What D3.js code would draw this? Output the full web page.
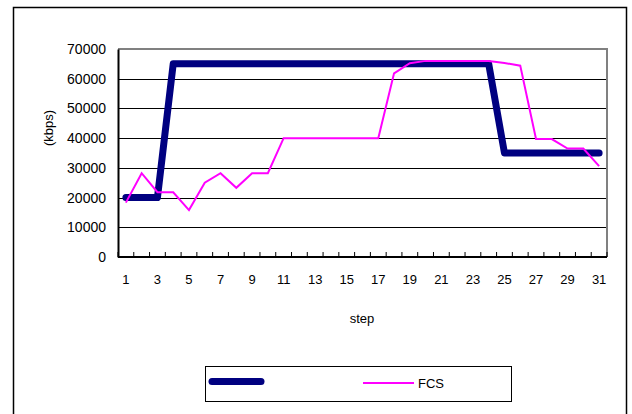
<!DOCTYPE html>
<html>
<head>
<meta charset="utf-8">
<script src="https://cdn.jsdelivr.net/npm/d3@7"></script>
<style>
  html, body { margin: 0; padding: 0; background: #fff; }
  svg { display: block; font-family: "Liberation Sans", Arial, sans-serif; }
</style>
</head>
<body>
<svg id="chart" width="632" height="414"></svg>
<script>
const steps = d3.range(1, 32);
const seriesBlue = [20000,20000,20000,
  65000,65000,65000,65000,65000,65000,65000,65000,65000,65000,65000,65000,65000,65000,65000,65000,65000,65000,65000,65000,65000,
  35000,35000,35000,35000,35000,35000,35000];
const seriesFCS = [18300,28200,21800,21800,15800,25000,28200,23300,28200,28200,
  40000,40000,40000,40000,40000,40000,40000,
  61800,65200,66000,66000,66000,66000,66000,65300,64400,39700,39700,36500,36500,30600];
const yTicks = [0,10000,20000,30000,40000,50000,60000,70000];
const xTickLabels = steps.filter(d => d % 2 === 1);
const legendLabels = ["", "FCS"];

const svg = d3.select("#chart");

// outer chart border
svg.append("rect").attr("x", 13.5).attr("y", 7.5).attr("width", 613).attr("height", 420)
  .attr("fill", "none").attr("stroke", "#000").attr("stroke-width", 1.5);

const plot = {left: 118, right: 607, top: 49, bottom: 257};

const x = d3.scaleBand().domain(steps).range([plot.left, plot.right]);
const xc = d => x(d) + x.bandwidth() / 2;
const y = d3.scaleLinear().domain([0, 70000]).range([plot.bottom, plot.top]);

// gridlines
svg.append("g").selectAll("line").data(yTicks.filter(d => d > 0)).join("line")
  .attr("x1", plot.left).attr("x2", plot.right)
  .attr("y1", d => Math.round(y(d)) + 0.5).attr("y2", d => Math.round(y(d)) + 0.5)
  .attr("stroke", "#000").attr("stroke-width", 1);

// plot border top/right gray
svg.append("path")
  .attr("d", `M${plot.left},${plot.top}H${plot.right}V${plot.bottom}`)
  .attr("fill", "none").attr("stroke", "#808080").attr("stroke-width", 2);

// y axis
const yAxis = d3.axisLeft(y).tickValues(yTicks).tickSize(0).tickPadding(12).tickFormat(d3.format("d"));
const gy = svg.append("g").attr("transform", `translate(${plot.left},0)`).call(yAxis);
gy.select(".domain").attr("stroke", "#000").attr("stroke-width", 2);
gy.selectAll("text").attr("font-size", 14).attr("fill", "#000").attr("font-family", "Liberation Sans, Arial, sans-serif");

// x axis: ticks at band boundaries pointing inward
const boundaries = steps.map(d => x(d)).concat([plot.right]);
svg.append("g").selectAll("line").data(boundaries).join("line")
  .attr("x1", d => d).attr("x2", d => d)
  .attr("y1", plot.bottom).attr("y2", plot.bottom - 5)
  .attr("stroke", "#000").attr("stroke-width", 1);
const xAxis = d3.axisBottom(x).tickValues(xTickLabels).tickSize(0).tickPadding(18);
const gx = svg.append("g").attr("transform", `translate(0,${plot.bottom})`).call(xAxis);
gx.select(".domain").attr("d", `M${plot.left},0H${plot.right}`).attr("stroke", "#000").attr("stroke-width", 2);
gx.selectAll("text").attr("font-size", 13).attr("fill", "#000").attr("font-family", "Liberation Sans, Arial, sans-serif");

// axis titles
svg.append("text").attr("x", 362).attr("y", 323).attr("text-anchor", "middle")
  .attr("font-size", 13).text("step");
svg.append("text").attr("transform", "translate(53,128) rotate(-90)").attr("text-anchor", "middle")
  .attr("font-size", 13).text("(kbps)");

// lines
const lineBlue = d3.line().x((d, i) => xc(steps[i])).y(d => y(d));
svg.append("path").datum(seriesBlue).attr("d", lineBlue)
  .attr("fill", "none").attr("stroke", "#000080").attr("stroke-width", 7)
  .attr("stroke-linejoin", "round").attr("stroke-linecap", "round");
svg.append("path").datum(seriesFCS).attr("d", lineBlue)
  .attr("fill", "none").attr("stroke", "#FF00FF").attr("stroke-width", 2)
  .attr("stroke-linejoin", "miter");

// legend
svg.append("rect").attr("x", 205.5).attr("y", 366.5).attr("width", 306).attr("height", 35)
  .attr("fill", "#fff").attr("stroke", "#000").attr("stroke-width", 1);
svg.append("line").attr("x1", 212).attr("x2", 261).attr("y1", 381.5).attr("y2", 381.5)
  .attr("stroke", "#000080").attr("stroke-width", 7).attr("stroke-linecap", "round");
svg.append("text").attr("x", 266).attr("y", 388).attr("font-size", 13).text(legendLabels[0]);
svg.append("line").attr("x1", 363).attr("x2", 414).attr("y1", 383).attr("y2", 383)
  .attr("stroke", "#FF00FF").attr("stroke-width", 2);
svg.append("text").attr("x", 418).attr("y", 388).attr("font-size", 13).text(legendLabels[1]);
</script>
</body>
</html>
